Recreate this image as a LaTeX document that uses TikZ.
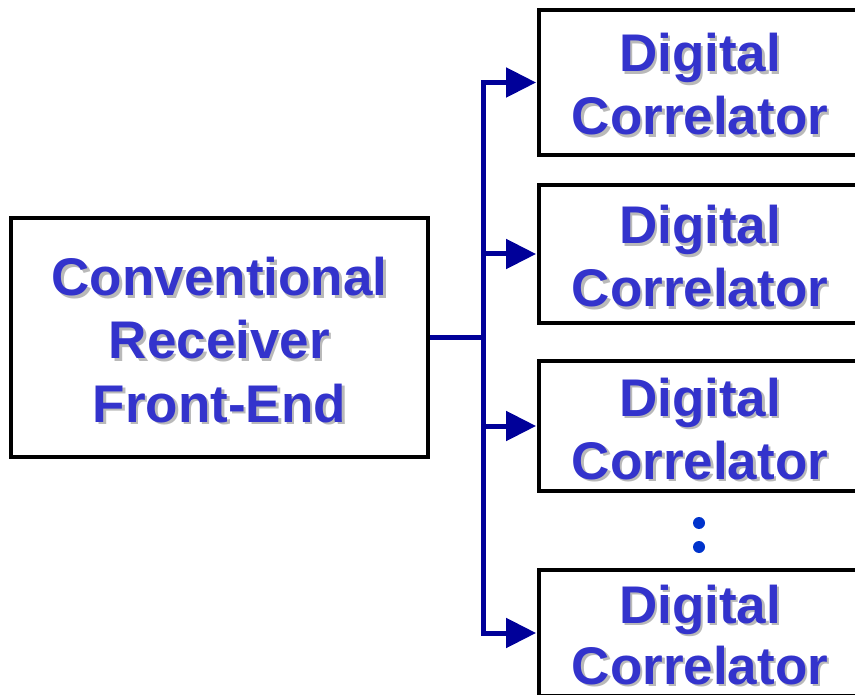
\documentclass[tikz,border=0pt]{standalone}
\usepackage{fontspec}
\setmainfont{Liberation Sans}
\usetikzlibrary{arrows.meta}
\definecolor{labelblue}{RGB}{51,51,204}
\definecolor{shadowgray}{RGB}{185,185,185}
\definecolor{wireblue}{RGB}{0,0,153}
\definecolor{dotblue}{RGB}{0,51,204}
\tikzset{
  block/.style={draw=black, line width=3.8pt, fill=white, inner sep=0pt},
  lbl/.style={font=\fontsize{53}{63}\selectfont\bfseries, text=labelblue, anchor=base, inner sep=0pt},
  lblshadow/.style={lbl, text=shadowgray},
  wire/.style={draw=wireblue, line width=5pt},
  feed/.style={wire, -{Triangle[length=30pt, width=29pt]}, shorten >=1pt},
}
% one line of label text with a soft drop shadow; #2 is "x,y"
\newcommand\shadowline[3]{%
  \node[lblshadow] (#1s) at ([shift={(2.5,2.5)}]#2) {#3};
  \node[lbl] (#1) at (#2) {#3};
}
\begin{document}
\begin{tikzpicture}[x=1pt, y=-1pt]
  \useasboundingbox (0,0) rectangle (855,695);
  \clip (0,0) rectangle (855,695);

  % blocks
  \node[block, minimum width=417pt, minimum height=239pt] (fe) at (219.5,337.5) {};
  \node[block, minimum width=322pt, minimum height=145pt] (dc1) at (700,82.5) {};
  \node[block, minimum width=322pt, minimum height=138pt] (dc2) at (700,254) {};
  \node[block, minimum width=322pt, minimum height=130pt] (dc3) at (700,426) {};
  \node[block, minimum width=322pt, minimum height=126pt] (dc4) at (700,633) {};

  % labels
  \shadowline{feA}{219.5,296}{Conventional}
  \shadowline{feB}{219.5,359}{Receiver}
  \shadowline{feC}{219.5,422}{Front-End}

  \shadowline{dcA1}{700,72}{Digital}
  \shadowline{dcB1}{700,135}{Correlator}
  \shadowline{dcA2}{700,244}{Digital}
  \shadowline{dcB2}{700,307}{Correlator}
  \shadowline{dcA3}{700,416}{Digital}
  \shadowline{dcB3}{700,479}{Correlator}
  \shadowline{dcA4}{700,623}{Digital}
  \shadowline{dcB4}{700,684}{Correlator}

  % ellipsis between the last two correlators
  \fill[dotblue] (699,523) circle (6pt);
  \fill[dotblue] (699,547) circle (6pt);

  % distribution bus
  \coordinate (j) at (483,337.5);
  \coordinate (top) at (483,82.5);
  \coordinate (bot) at (483,633);
  \draw[wire] (fe.east) -- (j);
  \draw[wire, line cap=rect] (top) -- (bot);
  \draw[feed] (top) -- (dc1.west);
  \draw[feed] (j |- dc2.west) -- (dc2.west);
  \draw[feed] (j |- dc3.west) -- (dc3.west);
  \draw[feed] (bot) -- (dc4.west);
\end{tikzpicture}
\end{document}
